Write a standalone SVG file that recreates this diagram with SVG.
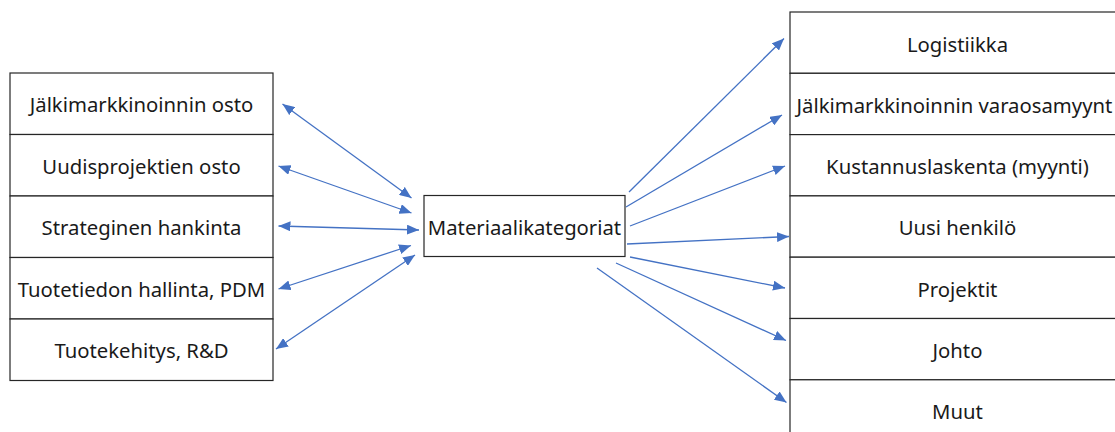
<svg xmlns="http://www.w3.org/2000/svg" width="1115" height="432" viewBox="0 0 1115 432">
  <defs>
    <marker id="arrow" markerUnits="userSpaceOnUse" markerWidth="12" markerHeight="10" refX="12" refY="5" orient="auto-start-reverse" viewBox="0 0 12 10">
      <path d="M0,0 L12,5 L0,10 Z" fill="#4472C4"/>
    </marker>
  </defs>
  <style>
    .box { fill: #ffffff; stroke: #262626; stroke-width: 1.2; }
    .label { font-family: "Noto Sans", "Open Sans", sans-serif; font-size: 20.3px; fill: #1a1a1a; text-anchor: middle; }
    .link { stroke: #4472C4; stroke-width: 1.3; fill: none; marker-end: url(#arrow); }
    .both { marker-start: url(#arrow); }
  </style>
  <rect width="1115" height="432" fill="#ffffff"/>

  <!-- source functions (left column) -->
  <g id="jalkimarkkinoinnin-osto">
    <rect class="box" x="10" y="73" width="263" height="61.5"/>
    <text class="label" x="141.5" y="112">Jälkimarkkinoinnin osto</text>
  </g>
  <g id="uudisprojektien-osto">
    <rect class="box" x="10" y="134.5" width="263" height="61.5"/>
    <text class="label" x="141.5" y="173.5">Uudisprojektien osto</text>
  </g>
  <g id="strateginen-hankinta">
    <rect class="box" x="10" y="196" width="263" height="61.5"/>
    <text class="label" x="141.5" y="235">Strateginen hankinta</text>
  </g>
  <g id="tuotetiedon-hallinta">
    <rect class="box" x="10" y="257.5" width="263" height="61.5"/>
    <text class="label" x="141.5" y="296.5">Tuotetiedon hallinta, PDM</text>
  </g>
  <g id="tuotekehitys">
    <rect class="box" x="10" y="319" width="263" height="61.5"/>
    <text class="label" x="141.5" y="358">Tuotekehitys, R&amp;D</text>
  </g>

  <!-- central hub -->
  <g id="materiaalikategoriat">
    <rect class="box" x="424" y="195.5" width="201" height="61"/>
    <text class="label" x="524.5" y="235">Materiaalikategoriat</text>
  </g>

  <!-- consumers (right column, runs past the canvas edge) -->
  <g id="logistiikka">
    <rect class="box" x="790" y="12" width="340" height="61.3"/>
    <text class="label" x="957.5" y="51.5">Logistiikka</text>
  </g>
  <g id="varaosamyynti">
    <rect class="box" x="790" y="73.3" width="340" height="61.3"/>
    <text class="label" x="796.5" y="112.8" style="text-anchor:start">Jälkimarkkinoinnin varaosamyynt</text>
  </g>
  <g id="kustannuslaskenta">
    <rect class="box" x="790" y="134.6" width="340" height="61.3"/>
    <text class="label" x="957.5" y="174.1">Kustannuslaskenta (myynti)</text>
  </g>
  <g id="uusi-henkilo">
    <rect class="box" x="790" y="195.9" width="340" height="61.3"/>
    <text class="label" x="957.5" y="235.4">Uusi henkilö</text>
  </g>
  <g id="projektit">
    <rect class="box" x="790" y="257.2" width="340" height="61.3"/>
    <text class="label" x="957.5" y="296.7">Projektit</text>
  </g>
  <g id="johto">
    <rect class="box" x="790" y="318.5" width="340" height="61.3"/>
    <text class="label" x="957.5" y="358">Johto</text>
  </g>
  <g id="muut">
    <rect class="box" x="790" y="379.8" width="340" height="61.3"/>
    <text class="label" x="957.5" y="419.3">Muut</text>
  </g>

  <!-- connectors -->
  <g id="connectors">
    <line class="link both" x1="282.5" y1="104" x2="411.5" y2="198"/>
    <line class="link both" x1="278.5" y1="166" x2="411.5" y2="213"/>
    <line class="link both" x1="278.5" y1="226" x2="419" y2="230"/>
    <line class="link both" x1="278.5" y1="289" x2="411" y2="245.5"/>
    <line class="link both" x1="276" y1="349" x2="415" y2="255"/>

    <line class="link" x1="629" y1="192" x2="784" y2="38.5"/>
    <line class="link" x1="626" y1="207" x2="782" y2="115"/>
    <line class="link" x1="630" y1="226" x2="785" y2="166"/>
    <line class="link" x1="627" y1="244" x2="789" y2="236.5"/>
    <line class="link" x1="630" y1="257" x2="785" y2="288"/>
    <line class="link" x1="616" y1="263" x2="786" y2="340.5"/>
    <line class="link" x1="597" y1="268" x2="786.5" y2="402.5"/>
  </g>
</svg>
